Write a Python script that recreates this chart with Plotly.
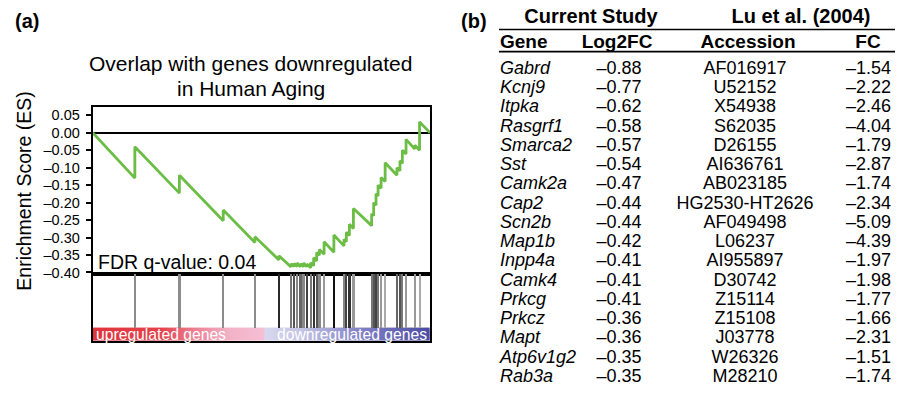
import plotly.graph_objects as go

W, H = 904, 408
FONT = "Liberation Sans, Arial, sans-serif"

# ---------------- (a) GSEA data ----------------
n_genes = 1000
hit_rank = [125, 257, 387, 481, 552, 588, 597, 606, 616, 625, 635, 646, 655, 664, 672, 686,
            715, 745, 752, 761, 773, 827, 833, 840, 846, 855, 867, 902, 911, 918, 929, 955, 969]
es_before = [-0.130, -0.173, -0.252, -0.314, -0.364, -0.384, -0.383, -0.383, -0.384, -0.384,
             -0.384, -0.387, -0.381, -0.367, -0.351, -0.348, -0.342, -0.324, -0.312, -0.294,
             -0.274, -0.266, -0.238, -0.208, -0.181, -0.159, -0.140, -0.122, -0.109, -0.088,
             -0.061, -0.047, -0.050]
es_after = [-0.040, -0.122, -0.221, -0.298, -0.352, -0.375, -0.374, -0.373, -0.375, -0.373,
            -0.376, -0.372, -0.358, -0.343, -0.334, -0.312, -0.293, -0.305, -0.285, -0.262,
            -0.217, -0.232, -0.200, -0.175, -0.150, -0.128, -0.086, -0.100, -0.080, -0.050,
            -0.019, -0.036, 0.031]
hit_shade = ["#8c8c8c", "#8c8c8c", "#8c8c8c", "#8c8c8c", "#2a2a2a", "#777777", "#555555",
             "#888888", "#666666", "#888888", "#444444", "#777777", "#333333", "#555555",
             "#888888", "#999999", "#111111", "#888888", "#444444", "#333333", "#999999",
             "#777777", "#555555", "#444444", "#777777", "#999999", "#aaaaaa", "#666666",
             "#555555", "#777777", "#999999", "#999999", "#aaaaaa"]
es_ticks = [0.05, 0.00, -0.05, -0.10, -0.15, -0.20, -0.25, -0.30, -0.35, -0.40]
es_ticktext = ["0.05", "0.00", "–0.05", "–0.10", "–0.15", "–0.20", "–0.25", "–0.30", "–0.35", "–0.40"]

# ---------------- (b) table data ----------------
genes = ["Gabrd", "Kcnj9", "Itpka", "Rasgrf1", "Smarca2", "Sst", "Camk2a", "Cap2", "Scn2b",
         "Map1b", "Inpp4a", "Camk4", "Prkcg", "Prkcz", "Mapt", "Atp6v1g2", "Rab3a"]
log2fc = ["–0.88", "–0.77", "–0.62", "–0.58", "–0.57", "–0.54", "–0.47", "–0.44", "–0.44",
          "–0.42", "–0.41", "–0.41", "–0.41", "–0.36", "–0.36", "–0.35", "–0.35"]
accession = ["AF016917", "U52152", "X54938", "S62035", "D26155", "AI636761", "AB023185",
             "HG2530-HT2626", "AF049498", "L06237", "AI955897", "D30742", "Z15114", "Z15108",
             "J03778", "W26326", "M28210"]
fc = ["–1.54", "–2.22", "–2.46", "–4.04", "–1.79", "–2.87", "–1.74", "–2.34", "–5.09",
      "–4.39", "–1.97", "–1.98", "–1.77", "–1.66", "–2.31", "–1.51", "–1.74"]
group_headers = ["Current Study", "Lu et al. (2004)"]
col_headers = ["Gene", "Log2FC", "Accession", "FC"]

# ---------------- layout helpers ----------------
def px(x):
    return x / W

def py(y):
    return 1 - y / H

X0, X1 = 92.7, 430.0
ES_TOP, ES_BOT = 108.5, 278.5
BAR_BOT = 347.0
ES_ZERO, ES_SCALE = 135.0, 355.5   # pixel of ES=0, pixels per ES unit

fig = go.Figure()

# ES curve built from read vertices
cx, cy = [0], [0.0]
for r, b, a in zip(hit_rank, es_before, es_after):
    cx += [r, r]
    cy += [b, a]
cx.append(n_genes)
cy.append(0.0)
fig.add_trace(go.Scatter(x=cx, y=cy, mode="lines", xaxis="x", yaxis="y",
                         line=dict(color="#6cbd45", width=2.8), hoverinfo="skip"))

# color bar (ranked list gradient)
fig.add_trace(go.Heatmap(x=[0, n_genes], y=[0.05, 0.15], z=[[0, n_genes], [0, n_genes]],
                         xaxis="x2", yaxis="y2", zmin=0, zmax=n_genes, zsmooth="best",
                         showscale=False, hoverinfo="skip",
                         colorscale=[[0.0, "#e0343c"], [0.2, "#e4424a"], [0.3, "#ec7f92"],
                                     [0.4, "#f3b1c6"], [0.505, "#f5bfd3"], [0.51, "#d8d8ef"],
                                     [0.62, "#c4c4e5"], [0.78, "#8686c9"], [1.0, "#4b4ba4"]]))

# hit lines
fig.add_trace(go.Bar(x=hit_rank, y=[0.8] * len(hit_rank), base=0.2, width=5,
                     marker=dict(color=hit_shade, line=dict(width=0)),
                     xaxis="x2", yaxis="y2", hoverinfo="skip"))

# ---------------- table ----------------
ROW0, ROWH = 70.5, 19.6
def row_of(ypx):
    return (ypx - ROW0) / ROWH

rows = list(range(len(genes)))
TF = 18
def text_col(xs, ys, texts, pos, size):
    return go.Scatter(x=xs, y=ys, mode="text", text=texts, textposition=pos,
                      textfont=dict(family=FONT, size=size, color="black"),
                      xaxis="x3", yaxis="y3", hoverinfo="skip", cliponaxis=False)

fig.add_trace(text_col([500] * len(genes), rows, ["<i>%s</i>" % g for g in genes], "middle right", TF))
fig.add_trace(text_col([619] * len(genes), rows, log2fc, "middle center", TF))
fig.add_trace(text_col([745] * len(genes), rows, accession, "middle center", TF))
fig.add_trace(text_col([891] * len(genes), rows, fc, "middle left", TF))
# headers
fig.add_trace(text_col([591, 801], [row_of(18.5)] * 2, ["<b>%s</b>" % t for t in group_headers],
                       "middle center", 20))
fig.add_trace(text_col([500], [row_of(43.5)], ["<b>%s</b>" % col_headers[0]], "middle right", 19))
fig.add_trace(text_col([617, 748, 868], [row_of(43.5)] * 3, ["<b>%s</b>" % t for t in col_headers[1:]],
                       "middle center", 19))

shapes = [
    dict(type="line", xref="x3", yref="y3", x0=499, x1=895, y0=row_of(30), y1=row_of(30),
         line=dict(color="black", width=1.6)),
    dict(type="line", xref="x3", yref="y3", x0=499, x1=895, y0=row_of(52.5), y1=row_of(52.5),
         line=dict(color="black", width=1.6)),
]

def ann(text, x, y, size, color="black", xanchor="center", angle=0):
    return dict(text=text, x=px(x), y=py(y), xref="paper", yref="paper", showarrow=False,
                xanchor=xanchor, yanchor="middle", textangle=angle,
                font=dict(family=FONT, size=size, color=color))

annotations = [
    ann("<b>(a)</b>", 27, 21, 20),
    ann("<b>(b)</b>", 474, 21, 20),
    ann("Overlap with genes downregulated", 250, 64.5, 21),
    ann("in Human Aging", 251, 90, 21),
    ann("Enrichment Score (ES)", 24, 195, 19.5, angle=-90),
    ann("FDR q-value: 0.04", 96, 267, 19.5, xanchor="left"),
    ann("upregulated genes", 94, 340, 15.7, color="white", xanchor="left"),
    ann("downregulated genes", 429, 340, 15.7, color="white", xanchor="right"),
]

box = dict(showline=True, mirror=True, linecolor="black", linewidth=2, showgrid=False,
           zeroline=False)

fig.update_layout(
    width=W, height=H, margin=dict(l=0, r=0, t=0, b=0),
    paper_bgcolor="white", plot_bgcolor="rgba(0,0,0,0)",
    showlegend=False, bargap=0,
    font=dict(family=FONT, color="black"),
    xaxis=dict(domain=[px(X0), px(X1)], range=[0, n_genes], anchor="y",
               showticklabels=False, ticks="", **box),
    yaxis=dict(domain=[py(ES_BOT), py(ES_TOP)],
               range=[-(ES_BOT - ES_ZERO) / ES_SCALE, (ES_ZERO - ES_TOP) / ES_SCALE], anchor="x",
               tickvals=es_ticks, ticktext=es_ticktext, ticks="outside", ticklen=5,
               tickwidth=1.5, tickcolor="black", tickfont=dict(family=FONT, size=14.5),
               ticklabelstandoff=3,
               showline=True, mirror=True, linecolor="black", linewidth=2, showgrid=False,
               zeroline=True, zerolinecolor="black", zerolinewidth=2),
    xaxis2=dict(domain=[px(X0), px(X1)], range=[0, n_genes], anchor="y2",
                showticklabels=False, ticks="", **box),
    yaxis2=dict(domain=[py(BAR_BOT), py(ES_BOT)], range=[0, 1], anchor="x2",
                showticklabels=False, ticks="", **box),
    xaxis3=dict(domain=[0, 1], range=[0, W], anchor="y3", visible=False),
    yaxis3=dict(domain=[0, 1], range=[row_of(H), row_of(0)], anchor="x3", visible=False),
    shapes=shapes, annotations=annotations,
)

fig.write_html("out.html")
